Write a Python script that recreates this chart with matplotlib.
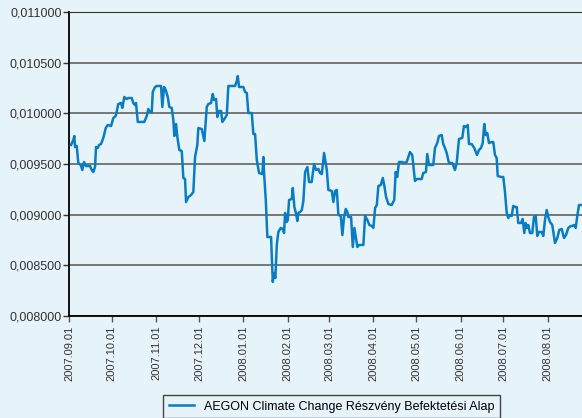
import numpy as np
import pandas as pd
import matplotlib as mpl
mpl.use('Agg')
import matplotlib.pyplot as plt
import matplotlib.dates as mdates
from matplotlib.ticker import FuncFormatter, MultipleLocator

# days since 2007.09.01 and daily price
days = [1.4, 3.0, 3.7, 4.2, 5.4, 6.5, 8.2, 9.3, 10.5, 11.9, 14.7, 15.9, 17.0, 18.2, 18.9,
        20.1, 21.0, 22.4, 24.0, 25.7, 27.1, 29.4, 31.0, 32.7, 34.5, 36.4, 37.3, 38.7, 40.4,
        41.5, 43.9, 45.0, 46.2, 46.9, 48.1, 49.7, 52.7, 54.4, 55.5, 56.7, 57.9, 58.6, 60.2,
        61.4, 64.4, 65.3, 66.5, 67.7, 69.1, 70.2, 71.9, 73.0, 73.7, 74.9, 75.8, 77.2, 78.9,
        80.0, 81.2, 81.9, 83.5, 85.4, 87.0,
        88.2, 89.8, 90.5, 92.9, 94.7, 96.4, 97.5, 99.4, 100.6, 101.5, 102.9, 103.8, 104.8,
        106.4, 107.3, 109.2, 110.4, 111.5, 116.2, 117.4, 118.1, 119.0, 122.0, 123.2, 124.4,
        125.5, 127.9, 129.0, 130.2, 131.4, 133.0, 135.3, 136.0, 136.5, 137.7, 138.8, 141.4,
        142.6, 143.5, 144.4, 145.4, 146.5, 148.2, 149.6, 150.5, 151.2, 152.4, 153.1, 154.0,
        155.9, 156.6, 157.7, 158.9, 159.8, 160.5, 161.7, 162.9, 164.0, 165.2, 166.8, 168.0,
        169.8, 171.5, 172.9, 174.5, 175.7,
        176.9, 178.5, 180.4, 181.5, 183.9, 185.0, 186.2, 187.4, 188.5, 190.2, 191.3, 192.5,
        193.7, 194.8, 195.5, 197.4, 198.6, 199.7, 200.7, 201.8, 203.0, 206.0, 207.2, 208.8,
        210.2, 211.9, 213.0, 214.2, 215.4, 216.5, 218.2, 219.6, 220.7, 221.9, 223.5, 225.8,
        227.6, 228.6, 229.7, 230.9, 233.2, 234.4, 236.3, 238.6, 240.2, 242.1, 243.3, 246.8,
        247.9, 249.8, 250.7, 251.9, 254.9, 256.1, 257.7, 258.9, 260.8, 261.9, 263.1,
        264.3, 265.9, 268.2, 270.1, 271.3, 272.9, 275.2, 276.4, 277.8, 279.0, 279.9, 281.8,
        283.6, 285.5, 286.9, 288.3, 289.5, 290.6, 291.6, 292.7, 293.9, 295.8, 296.9, 298.1,
        299.3, 300.0, 302.3, 303.9, 305.1, 306.3, 307.4, 308.6, 309.8, 310.9, 312.1, 313.3,
        314.4, 316.3, 317.5, 318.6, 319.6, 320.5, 321.4, 322.6, 324.2, 325.4, 326.6, 327.7,
        328.9, 330.8, 331.9, 333.1, 334.3, 335.4, 336.6, 338.2, 340.1, 341.7, 343.1, 344.8,
        346.4, 347.8, 349.4, 351.1, 352.2, 353.4, 354.6, 355.7, 356.9, 358.8]

prices = [0.009688, 0.009737, 0.009776, 0.009668, 0.009678, 0.009510, 0.009490, 0.009441,
          0.009520, 0.009480, 0.009480, 0.009441, 0.009421, 0.009470, 0.009668, 0.009658,
          0.009688, 0.009697, 0.009757, 0.009855, 0.009885, 0.009875, 0.009954, 0.009974,
          0.010092, 0.010102, 0.010053, 0.010161, 0.010141, 0.010151, 0.010151, 0.010102,
          0.010082, 0.010102, 0.009915, 0.009915, 0.009915, 0.009974, 0.010043, 0.010013,
          0.010013, 0.010211, 0.010260, 0.010270, 0.010270, 0.010063, 0.010260, 0.010230,
          0.010161, 0.010063, 0.010053, 0.009934, 0.009776, 0.009895, 0.009767, 0.009638,
          0.009628, 0.009362, 0.009352, 0.009125, 0.009174, 0.009194, 0.009224,
          0.009569, 0.009688, 0.009855, 0.009845, 0.009727, 0.010063, 0.010092, 0.010102,
          0.010191, 0.010132, 0.010141, 0.009964, 0.010023, 0.010023, 0.009915, 0.009954,
          0.009984, 0.010270, 0.010270, 0.010319, 0.010368, 0.010260, 0.010260, 0.010211,
          0.010201, 0.010003, 0.010003, 0.009796, 0.009796, 0.009540, 0.009411, 0.009401,
          0.009569, 0.009411, 0.009145, 0.008780, 0.008780, 0.008336, 0.008424, 0.008375,
          0.008701, 0.008829, 0.008869, 0.008859, 0.008819, 0.009017, 0.008928, 0.008947,
          0.009145, 0.009155, 0.009263, 0.009076, 0.009007, 0.008938, 0.009017, 0.009026,
          0.009046, 0.009135, 0.009421, 0.009470, 0.009322, 0.009322, 0.009500, 0.009441,
          0.009451, 0.009411,
          0.009401, 0.009609, 0.009441, 0.009244, 0.009234, 0.009125, 0.009234, 0.009244,
          0.008997, 0.008987, 0.008799, 0.008977, 0.009056, 0.009026, 0.008977, 0.008977,
          0.008681, 0.008869, 0.008780, 0.008681, 0.008701, 0.008701, 0.008987, 0.008947,
          0.008898, 0.008888, 0.008869, 0.009066, 0.009095, 0.009283, 0.009293, 0.009362,
          0.009283, 0.009174, 0.009105, 0.009095, 0.009145, 0.009421, 0.009372, 0.009520,
          0.009520, 0.009510, 0.009520, 0.009618, 0.009589, 0.009332, 0.009352, 0.009352,
          0.009411, 0.009421, 0.009599, 0.009490, 0.009490, 0.009658, 0.009707, 0.009776,
          0.009786, 0.009697, 0.009658,
          0.009609, 0.009510, 0.009510, 0.009441, 0.009510, 0.009747, 0.009757, 0.009875,
          0.009865, 0.009885, 0.009697, 0.009697, 0.009658, 0.009589, 0.009638, 0.009658,
          0.009707, 0.009895, 0.009786, 0.009806, 0.009707, 0.009717, 0.009717, 0.009589,
          0.009559, 0.009382, 0.009372, 0.009372, 0.009224, 0.009017, 0.008967, 0.008997,
          0.008987, 0.009086, 0.009076, 0.009076, 0.008918, 0.008918, 0.008957, 0.008819,
          0.008918, 0.008869, 0.008898, 0.008819, 0.008819, 0.008977, 0.008987, 0.008790,
          0.008829, 0.008829, 0.008790, 0.008947, 0.009046, 0.008977, 0.008928, 0.008898,
          0.008720, 0.008770, 0.008849, 0.008859, 0.008770, 0.008799, 0.008869, 0.008888,
          0.008888, 0.008898, 0.008869, 0.008987, 0.009095, 0.009095]

series_name = 'AEGON Climate Change Részvény Befektetési Alap'
start = pd.Timestamp('2007-09-01')
end_day = 359

bg = '#e6f4fa'
blue = '#0a7cc2'

plt.rcParams['font.family'] = ['Liberation Sans', 'DejaVu Sans']

fig = plt.figure(figsize=(5.82, 4.18), dpi=100, facecolor=bg)
ax = fig.add_axes([0.1186, 0.244, 0.8814, 0.7273])
ax.set_facecolor(bg)

dates = start + pd.to_timedelta(days, unit='D')
ax.plot(dates, prices, color=blue, lw=1.8, label=series_name, zorder=3)

ax.set_ylim(0.008, 0.011)
ax.set_xlim(start, start + pd.Timedelta(days=end_day))
ax.yaxis.set_major_locator(MultipleLocator(0.0005))
ax.yaxis.set_major_formatter(FuncFormatter(lambda v, p: f'{v:.6f}'.replace('.', ',')))
ax.grid(axis='y', color='#6e6e6e', lw=1.3)
ax.set_axisbelow(True)

month_ticks = pd.date_range('2007-09-01', '2008-08-01', freq='MS')
ax.set_xticks(month_ticks)
ax.xaxis.set_major_formatter(mdates.DateFormatter('%Y.%m.%d'))
plt.setp(ax.get_xticklabels(), rotation=90, fontsize=8, color='#333333')
plt.setp(ax.get_yticklabels(), fontsize=9, color='#333333')
ax.tick_params(axis='y', length=4, width=1, color='#333333', pad=1)
ax.tick_params(axis='x', length=4, width=1, color='#555555', pad=3)

ax.spines['right'].set_visible(False)
ax.spines['top'].set_color('#333333')
ax.spines['left'].set_color('black')
ax.spines['bottom'].set_color('black')
ax.spines['left'].set_linewidth(1.3)
ax.spines['bottom'].set_linewidth(1.3)

leg = fig.legend(loc='upper center', bbox_to_anchor=(0.570, 0.055), borderaxespad=0,
                 frameon=True, fancybox=False, fontsize=9, handlelength=2.0,
                 borderpad=0.45, facecolor=bg, edgecolor='#444444', framealpha=1)
leg.get_frame().set_linewidth(1.0)

plt.savefig('out.png', dpi=100, facecolor=bg)
